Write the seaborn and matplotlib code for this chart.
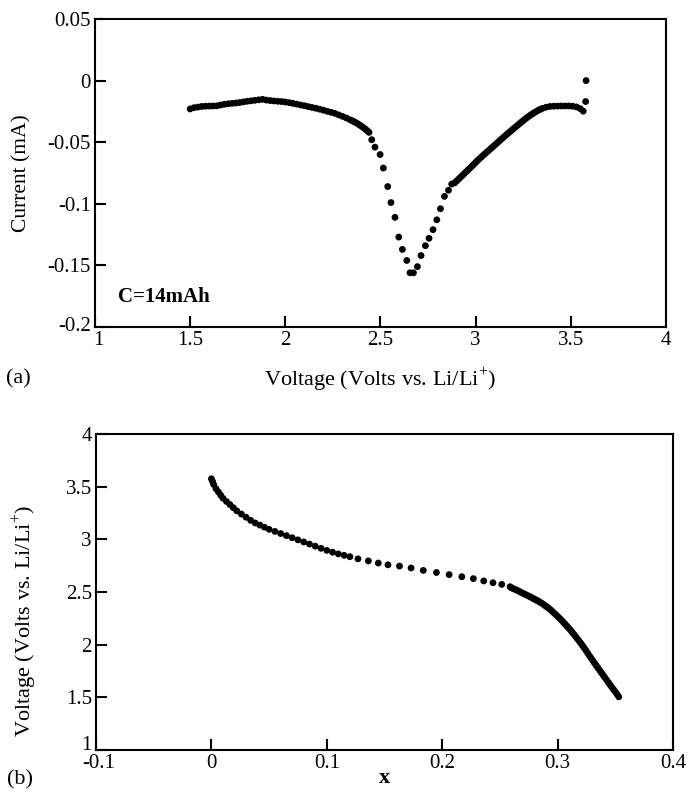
import matplotlib
matplotlib.use("Agg")
import matplotlib.pyplot as plt
import matplotlib.transforms as mtransforms
import seaborn as sns
import pandas as pd

# ---------------- data: panel (a) current vs voltage ----------------
volt_a = [1.50, 1.52, 1.54, 1.56, 1.58, 1.60, 1.62, 1.64, 1.66, 1.68, 1.70, 1.72,
          1.74, 1.76, 1.78, 1.80, 1.82, 1.84, 1.86, 1.88, 1.90, 1.92, 1.94, 1.96,
          1.98, 2.00, 2.02, 2.04, 2.06, 2.08, 2.10, 2.12, 2.14, 2.16, 2.18, 2.20,
          2.22, 2.24, 2.26, 2.28, 2.30, 2.32, 2.34, 2.35, 2.36, 2.37, 2.38, 2.39,
          2.40, 2.41, 2.42, 2.43, 2.44,
          2.454, 2.471, 2.498, 2.515, 2.538, 2.555, 2.576, 2.596, 2.615, 2.638,
          2.655, 2.673, 2.694, 2.713, 2.736, 2.755, 2.776, 2.796, 2.815, 2.836,
          2.857, 2.874,
          2.89, 2.90, 2.91, 2.92, 2.93, 2.94, 2.95, 2.96, 2.97, 2.98, 2.99, 3.00,
          3.01, 3.02, 3.03, 3.04, 3.05, 3.06, 3.07, 3.08, 3.09, 3.10, 3.11, 3.12,
          3.13, 3.14, 3.15, 3.16, 3.17, 3.18, 3.19, 3.20, 3.21, 3.22, 3.23, 3.24,
          3.25, 3.26, 3.27, 3.28, 3.29, 3.30, 3.31, 3.32, 3.33, 3.34, 3.35,
          3.37, 3.39, 3.41, 3.43, 3.45, 3.47, 3.49, 3.51, 3.53, 3.55, 3.565,
          3.578, 3.580]
current_a = [-0.0230, -0.0220, -0.0215, -0.0210, -0.0208, -0.0207, -0.0206, -0.0205,
             -0.0198, -0.0192, -0.0188, -0.0185, -0.0182, -0.0178, -0.0173, -0.0168,
             -0.0164, -0.0160, -0.0156, -0.0152, -0.0158, -0.0162, -0.0165, -0.0168,
             -0.0170, -0.0174, -0.0179, -0.0185, -0.0191, -0.0198, -0.0204, -0.0211,
             -0.0218, -0.0224, -0.0232, -0.0240, -0.0249, -0.0257, -0.0266, -0.0278,
             -0.0290, -0.0303, -0.0318, -0.0325, -0.0333, -0.0341, -0.0350, -0.0360,
             -0.0370, -0.0381, -0.0393, -0.0406, -0.0420,
             -0.048, -0.054, -0.060, -0.071, -0.086, -0.099, -0.111, -0.127, -0.137,
             -0.146, -0.156, -0.156, -0.151, -0.142, -0.134, -0.128, -0.121, -0.113,
             -0.104, -0.094, -0.089, -0.084,
             -0.0830, -0.0815, -0.0800, -0.0785, -0.0770, -0.0755, -0.0740, -0.0725,
             -0.0710, -0.0695, -0.0680, -0.0664, -0.0648, -0.0634, -0.0620, -0.0606,
             -0.0592, -0.0578, -0.0565, -0.0551, -0.0538, -0.0524, -0.0510, -0.0496,
             -0.0482, -0.0468, -0.0455, -0.0441, -0.0428, -0.0415, -0.0402, -0.0389,
             -0.0376, -0.0363, -0.0350, -0.0337, -0.0325, -0.0312, -0.0300, -0.0289,
             -0.0278, -0.0268, -0.0258, -0.0249, -0.0240, -0.0233, -0.0226,
             -0.0216, -0.0210, -0.0208, -0.0207, -0.0206, -0.0206, -0.0206, -0.0208,
             -0.0214, -0.0228, -0.0248,
             -0.017, 0.000]

# ---------------- data: panel (b) voltage vs x ----------------
x_b = [0.000, 0.001, 0.002, 0.004, 0.006, 0.008, 0.010, 0.013, 0.016, 0.019, 0.022,
       0.026, 0.030, 0.034, 0.038, 0.042, 0.046, 0.050, 0.055, 0.060, 0.065, 0.070,
       0.075, 0.080, 0.085, 0.090, 0.095, 0.100, 0.105, 0.110, 0.115,
       0.120, 0.127, 0.136, 0.1446, 0.153, 0.163, 0.173, 0.1836, 0.195, 0.206,
       0.217, 0.227, 0.236, 0.244, 0.2516, 0.2588,
       0.2600, 0.2615, 0.2630, 0.2645, 0.2660, 0.2675, 0.2690, 0.2705, 0.2720,
       0.2735, 0.2750, 0.2765, 0.2780, 0.2795, 0.2810, 0.2825, 0.2840, 0.2855,
       0.2870, 0.2885, 0.2900, 0.2915, 0.2930, 0.2945, 0.2960, 0.2975, 0.2990,
       0.3005, 0.3020, 0.3035, 0.3050, 0.3065, 0.3080, 0.3095, 0.3110, 0.3125,
       0.3140, 0.3155, 0.3170, 0.3185, 0.3200, 0.3215, 0.3230, 0.3245, 0.3260,
       0.3275, 0.3290, 0.3305, 0.3320, 0.3335, 0.3350, 0.3365, 0.3380, 0.3395,
       0.3410, 0.3425, 0.3440, 0.3455, 0.3470, 0.3485, 0.3500, 0.3515, 0.3530]
volt_b = [3.575, 3.55, 3.52, 3.48, 3.45, 3.42, 3.39, 3.36, 3.33, 3.30, 3.27,
          3.24, 3.21, 3.18, 3.155, 3.135, 3.115, 3.095, 3.075, 3.055, 3.035, 3.015,
          2.995, 2.975, 2.955, 2.935, 2.915, 2.895, 2.878, 2.862, 2.848,
          2.835, 2.815, 2.795, 2.775, 2.758, 2.746, 2.728, 2.705, 2.685, 2.665,
          2.645, 2.627, 2.605, 2.588, 2.572, 2.550,
          2.540, 2.532, 2.525, 2.518, 2.510, 2.502, 2.493, 2.485, 2.477,
          2.469, 2.461, 2.453, 2.444, 2.435, 2.426, 2.418, 2.408, 2.398,
          2.388, 2.376, 2.364, 2.352, 2.339, 2.325, 2.310, 2.295, 2.280,
          2.263, 2.247, 2.230, 2.213, 2.195, 2.177, 2.159, 2.140, 2.120,
          2.100, 2.079, 2.058, 2.037, 2.015, 1.993, 1.970, 1.946, 1.921,
          1.896, 1.872, 1.848, 1.825, 1.802, 1.779, 1.756, 1.733, 1.710,
          1.687, 1.664, 1.641, 1.618, 1.596, 1.574, 1.552, 1.530, 1.505]

xticks_a = [1, 1.5, 2, 2.5, 3, 3.5, 4]
xticklabels_a = ["1", "1.5", "2", "2.5", "3", "3.5", "4"]
yticks_a = [-0.2, -0.15, -0.1, -0.05, 0, 0.05]
yticklabels_a = ["-0.2", "-0.15", "-0.1", "-0.05", "0", "0.05"]
xticks_b = [-0.1, 0, 0.1, 0.2, 0.3, 0.4]
xticklabels_b = ["-0.1", "0", "0.1", "0.2", "0.3", "0.4"]
yticks_b = [1, 1.5, 2, 2.5, 3, 3.5, 4]
yticklabels_b = ["1", "1.5", "2", "2.5", "3", "3.5", "4"]

df_a = pd.DataFrame({"V": volt_a, "I": current_a})
df_b = pd.DataFrame({"x": x_b, "V": volt_b})

sns.set_theme(style="white")
plt.rcParams["font.family"] = ["Liberation Serif", "DejaVu Serif"]
plt.rcParams["mathtext.fontset"] = "custom"
plt.rcParams["mathtext.rm"] = "Liberation Serif"

W, H = 695, 792
fig = plt.figure(figsize=(W / 100, H / 100), dpi=100)
fig.patch.set_facecolor("white")


def box(l, t, r, b):
    return [l / W, 1 - b / H, (r - l) / W, (b - t) / H]


ax1 = fig.add_axes(box(95, 19, 666, 327))
ax2 = fig.add_axes(box(96, 434, 673, 750))

sns.scatterplot(data=df_a, x="V", y="I", ax=ax1, color="black", s=24,
                edgecolor="none", linewidth=0, legend=False)
sns.scatterplot(data=df_b, x="x", y="V", ax=ax2, color="black", s=24,
                edgecolor="none", linewidth=0, legend=False)

for ax, xt, xtl, yt, ytl, xl, yl in [
    (ax1, xticks_a, xticklabels_a, yticks_a, yticklabels_a, (1, 4), (-0.2, 0.05)),
    (ax2, xticks_b, xticklabels_b, yticks_b, yticklabels_b, (-0.1, 0.4), (1, 4)),
]:
    ax.set_xlim(*xl)
    ax.set_ylim(*yl)
    ax.set_xticks(xt)
    ax.set_xticklabels(xtl)
    ax.set_yticks(yt)
    ax.set_yticklabels(ytl)
    ax.set_facecolor("white")
    for sp in ax.spines.values():
        sp.set_visible(True)
        sp.set_color("black")
        sp.set_linewidth(1.5)
    ax.tick_params(axis="both", direction="in", length=8, width=1.5,
                   colors="black", labelsize=15, top=False, right=False,
                   bottom=True, left=True)
    ax.tick_params(axis="x", pad=3)
    ax.tick_params(axis="y", pad=3)
    ax.set_xlabel("")
    ax.set_ylabel("")
    ax.grid(False)

# nudge the corner tick labels like the reference
def nudge(label, dx_px, dy_px):
    label.set_transform(label.get_transform() +
                        mtransforms.ScaledTranslation(dx_px / 100, dy_px / 100,
                                                      fig.dpi_scale_trans))

nudge(ax1.get_yticklabels()[0], 0, 3)
nudge(ax1.get_xticklabels()[0], 3, 0)
nudge(ax2.get_yticklabels()[0], 0, 7)
nudge(ax2.get_xticklabels()[0], 3, 0)

# axis labels
fig.text(380 / W, 1 - 379 / H, r"Voltage (Volts vs. Li/Li$^{+}$)", ha="center",
         va="center", fontsize=16, color="black")
fig.text(22 / W, 1 - 173 / H, "Current (mA)", ha="center", va="center",
         rotation=90, fontsize=15.5, color="black")
fig.text(24 / W, 1 - 621 / H, r"Voltage (Volts vs. Li/Li$^{+}$)", ha="center",
         va="center", rotation=90, fontsize=16, color="black")
fig.text(384 / W, 1 - 778 / H, "x", ha="center", va="center", fontsize=16,
         fontweight="bold", color="black")
fig.text(6 / W, 1 - 379 / H, "(a)", ha="left", va="center", fontsize=16,
         color="black")
fig.text(7 / W, 1 - 780 / H, "(b)", ha="left", va="center", fontsize=16,
         color="black")

ax1.text(1.12, -0.1757, "C=14mAh", ha="left", va="center", fontsize=15,
         fontweight="bold", color="black")

fig.savefig("out.png", dpi=100, facecolor="white")
